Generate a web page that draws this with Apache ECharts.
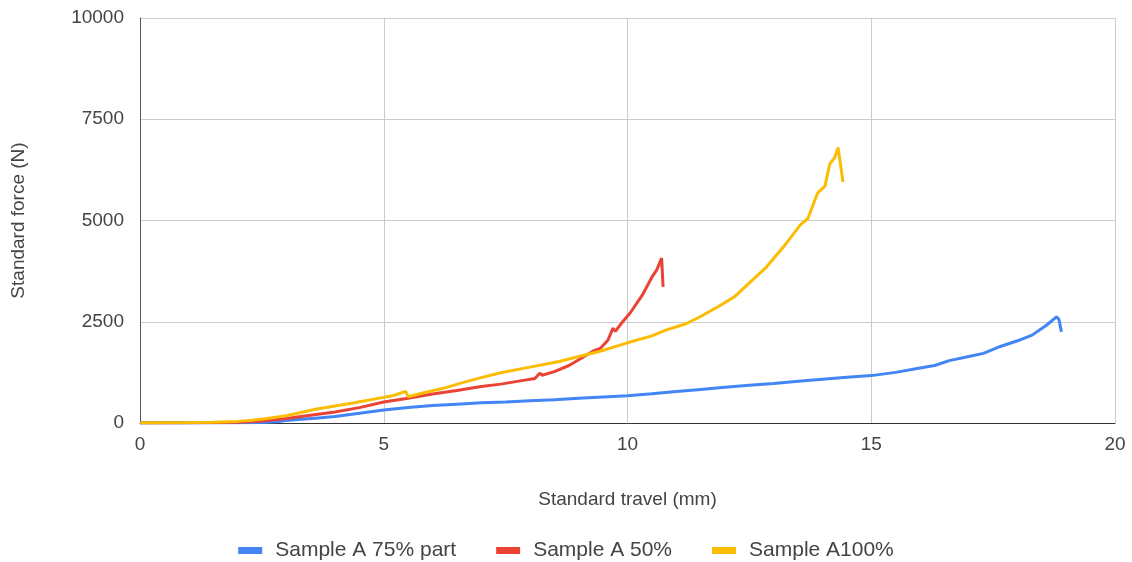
<!DOCTYPE html>
<html>
<head>
<meta charset="utf-8">
<script src="https://cdn.jsdelivr.net/npm/echarts@6/dist/echarts.min.js"></script>
<style>
  html, body { margin: 0; padding: 0; background: #fff; }
  #chart { width: 1132px; height: 562px; }
</style>
</head>
<body>
<div id="chart"></div>
<script>
// travel (mm) / force (N)
var blueTravel = [0, 1, 2, 2.5, 2.8, 3, 3.3, 3.6, 4, 4.5, 5, 5.5, 6, 6.5, 7, 7.5, 8, 8.5, 9, 9.5, 10, 10.5, 11, 11.5, 12, 12.5, 13, 13.5, 14, 14.5, 15, 15.5, 16, 16.3, 16.6, 17, 17.3, 17.6, 18, 18.3, 18.6, 18.8, 18.85, 18.9];
var blueForce = [0, 0, 5, 10, 30, 60, 90, 120, 160, 240, 320, 380, 430, 465, 500, 520, 550, 575, 610, 640, 670, 720, 775, 830, 880, 930, 975, 1030, 1080, 1130, 1170, 1250, 1360, 1420, 1540, 1640, 1720, 1870, 2030, 2170, 2420, 2620, 2560, 2250];

var redTravel = [0, 1, 2, 2.5, 3, 3.5, 4, 4.5, 5, 5.5, 6, 6.5, 7, 7.4, 7.8, 8.1, 8.2, 8.25, 8.5, 8.8, 9.0, 9.3, 9.45, 9.6, 9.7, 9.75, 9.9, 10.05, 10.3, 10.5, 10.6, 10.7, 10.73];
var redForce = [0, 5, 20, 50, 110, 190, 270, 380, 520, 610, 716, 800, 900, 960, 1040, 1100, 1230, 1180, 1270, 1420, 1560, 1780, 1850, 2050, 2340, 2260, 2500, 2710, 3150, 3600, 3780, 4070, 3360];

var yellowTravel = [0, 0.5, 1, 1.5, 2, 2.3, 2.6, 3, 3.3, 3.6, 4, 4.4, 4.8, 5.2, 5.45, 5.5, 5.8, 6.2, 6.6, 7, 7.4, 8, 8.6, 9, 9.4, 10, 10.5, 10.8, 11.2, 11.5, 11.9, 12.2, 12.5, 12.85, 13.2, 13.55, 13.7, 13.9, 14.05, 14.15, 14.25, 14.32, 14.42];
var yellowForce = [0, 5, 10, 20, 40, 70, 110, 180, 260, 340, 420, 500, 590, 680, 780, 650, 740, 850, 990, 1120, 1240, 1380, 1520, 1640, 1760, 1980, 2150, 2300, 2450, 2630, 2900, 3120, 3460, 3850, 4350, 4900, 5050, 5680, 5850, 6400, 6550, 6800, 5950];

var seriesNames = ["Sample A 75% part", "Sample A 50%", "Sample A100%"];
var seriesColors = ["#4285F4", "#EA4335", "#FBBC04"];

function zip(xs, ys) {
  return xs.map(function (x, i) { return [x, ys[i]]; });
}

var chart = echarts.init(document.getElementById("chart"));
var font = "Liberation Sans, Arial, sans-serif";

chart.setOption({
  animation: false,
  color: seriesColors,
  textStyle: { fontFamily: font },
  grid: { left: 140, right: 17, top: 18, bottom: 139 },
  legend: {
    top: 535,
    left: "center",
    icon: "rect",
    itemWidth: 24,
    itemHeight: 7,
    itemGap: 40,
    textStyle: { fontSize: 21, color: "#444", fontFamily: font, padding: [0, 0, 0, 8] },
    data: seriesNames
  },
  xAxis: {
    type: "value",
    min: 0,
    max: 20,
    interval: 5,
    name: "Standard travel (mm)",
    nameLocation: "middle",
    nameGap: 67,
    nameTextStyle: { fontSize: 19, color: "#444" },
    axisLine: { lineStyle: { color: "#333", width: 1 } },
    axisTick: { show: false },
    axisLabel: { fontSize: 19, color: "#444", margin: 12 },
    splitLine: { lineStyle: { color: "#ccc", width: 1 } }
  },
  yAxis: {
    type: "value",
    min: 0,
    max: 10000,
    interval: 2500,
    name: "Standard force (N)",
    nameLocation: "middle",
    nameGap: 112,
    nameTextStyle: { fontSize: 19, color: "#444" },
    axisLine: { show: true, lineStyle: { color: "#555", width: 1 } },
    axisTick: { show: false },
    axisLabel: { fontSize: 19, color: "#444", margin: 16, formatter: function (v) { return String(v); } },
    splitLine: { lineStyle: { color: "#ccc", width: 1 } }
  },
  series: [
    { name: seriesNames[0], type: "line", showSymbol: false, lineStyle: { width: 3 }, data: zip(blueTravel, blueForce) },
    { name: seriesNames[1], type: "line", showSymbol: false, lineStyle: { width: 3 }, data: zip(redTravel, redForce) },
    { name: seriesNames[2], type: "line", showSymbol: false, lineStyle: { width: 3 }, data: zip(yellowTravel, yellowForce) }
  ]
});
</script>
</body>
</html>
